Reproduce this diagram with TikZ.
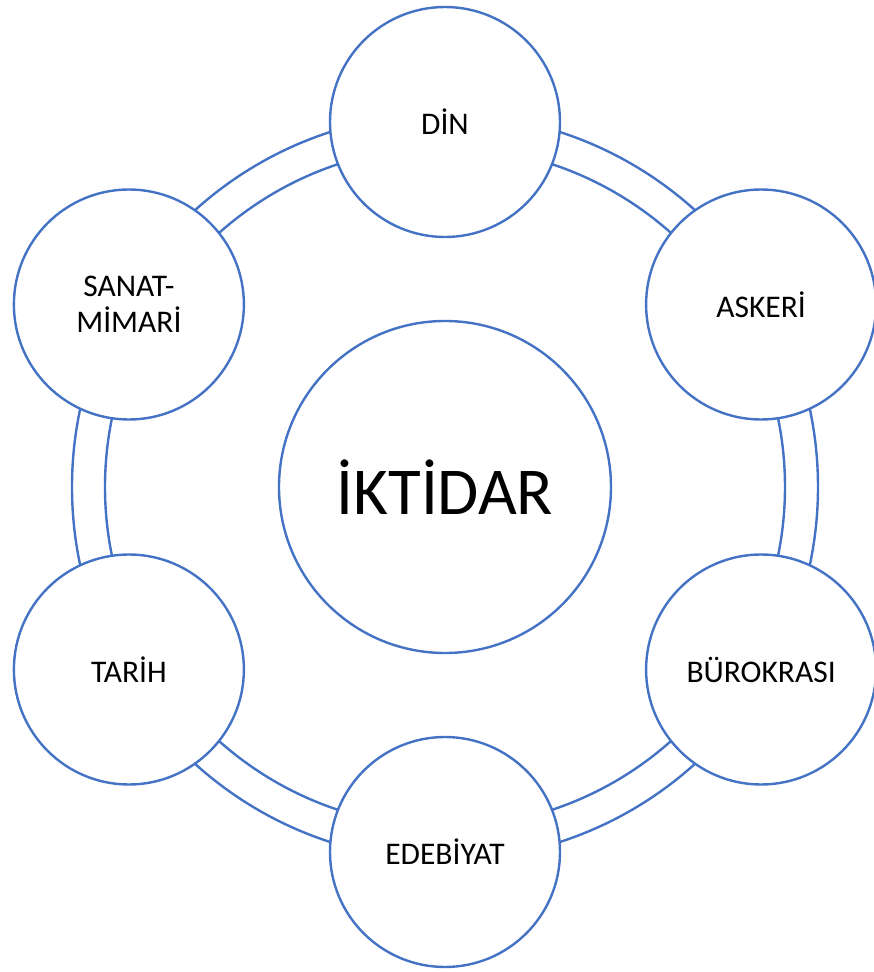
\documentclass[tikz,border=0pt]{standalone}
\usepackage{fontspec}
\setmainfont{Carlito}
\definecolor{ringblue}{HTML}{4472C4}
\tikzset{
  ringline/.style={draw=ringblue, line width=2.4pt},
  petal/.style={shape=circle, draw=ringblue, fill=white, line width=2.4pt,
    minimum size=230pt, inner sep=0pt, align=center,
    font=\fontsize{31.5}{36}\selectfont},
  hub/.style={shape=circle, draw=ringblue, fill=white, line width=2.4pt,
    minimum size=332pt, inner sep=0pt,
    font=\fontsize{67}{72}\selectfont}
}
\begin{document}
\begin{tikzpicture}[x=1pt,y=1pt]
        \useasboundingbox (-445,-485) rectangle (428,487);
        \node[hub] (iktidar) at (0,0) {İKTİDAR};
        % the double ring behind the outer circles
        \draw[ringline] (iktidar.center) circle[radius=373];
        \draw[ringline] (iktidar.center) circle[radius=340];
        \node[petal] (din) at (90:365) {DİN};
        \node[petal] (askeri) at (30:365) {ASKERİ};
        \node[petal] (burokrasi) at (-30:365) {BÜROKRASI};
        \node[petal] (edebiyat) at (-90:365) {EDEBİYAT};
        \node[petal] (tarih) at (210:365) {TARİH};
        \node[petal] (sanat) at (150:365) {SANAT-\\MİMARİ};
        \end{tikzpicture}
\end{document}
